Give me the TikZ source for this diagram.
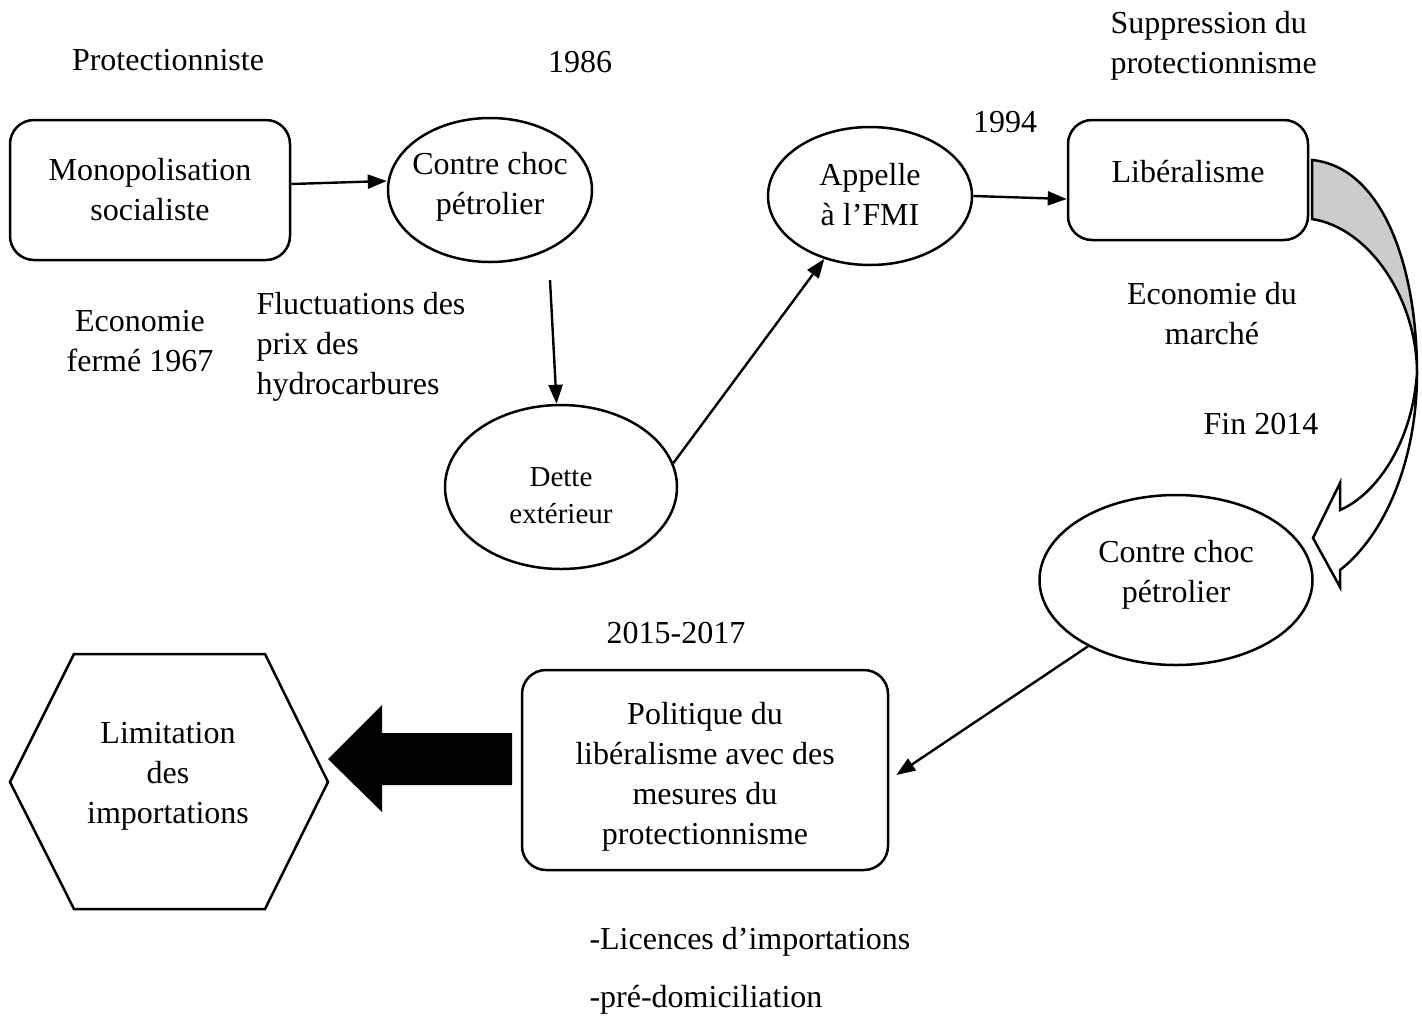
\documentclass[tikz,border=0pt]{standalone}
\usepackage{fontspec}
\setmainfont{Liberation Serif}
\usetikzlibrary{shapes,arrows.meta,positioning,calc}

\tikzset{
  every node/.style={font=\fontsize{32}{40}\selectfont},
  box/.style={draw, rounded corners=24pt, line width=2.5pt, align=center},
  oval/.style={draw, ellipse, line width=2.5pt, inner sep=0pt},
  txt/.style={align=center},
  arr/.style={line width=2.4pt, -{Triangle[length=19pt,width=14pt]}},
}

\begin{document}
\begin{tikzpicture}[x=1pt, y=-1pt]
    \useasboundingbox (0,0) rectangle (1422,1021);

    % Top row
    \node[box, minimum width=280, minimum height=140] (mono) at (150,190) {Monopolisation\\socialiste};
    \node[oval, minimum width=204, minimum height=144] (choc) at (490,190) {};
    \node[txt] at (490,187) {Contre choc\\pétrolier};
    \node[oval, minimum width=204, minimum height=138] (fmi) at (870,196) {};
    \node[txt] at (870,195) {Appelle\\à l’FMI};
    \node[box, minimum width=240, minimum height=120] (lib) at (1188,180) {};
    \node[txt] at (1188,172) {Libéralisme};

    % Middle
    \node[oval, minimum width=232, minimum height=164] (dette) at (561,487) {};
    \node[txt, font=\fontsize{29}{37}\selectfont] at (561,496) {Dette\\extérieur};
    \node[oval, minimum width=273, minimum height=170] (choc2) at (1176,580) {};
    \node[txt] at (1176,575) {Contre choc\\pétrolier};

    % Bottom row
    \node[box, minimum width=366, minimum height=200] (pol) at (705,770) {};
    \node[txt] at (705,777) {Politique du\\libéralisme avec des\\mesures du\\protectionnisme};
    \draw[line width=2.5pt] (10,782) -- (74,654) -- (265,654) -- (328,782) -- (265,909) -- (74,909) -- cycle;
    \node[txt] (lim) at (168,776) {Limitation\\des\\importations};

    % Labels
    \node[txt] at (168,60) {Protectionniste};
    \node[txt] at (580,62) {1986};
    \node[align=left, anchor=west] at (1107,46) {Suppression du\\protectionnisme};
    \node[txt] at (1005,122) {1994};
    \node[txt] at (140,341) {Economie\\fermé 1967};
    \node[align=left, anchor=west] at (253,347) {Fluctuations des\\prix des\\hydrocarbures};
    \node[txt] at (1212,314) {Economie du\\marché};
    \node[txt] at (1261,424) {Fin 2014};
    \node[txt] at (676,633) {2015-2017};
    \node[anchor=west] at (586,942) {-Licences d’importations};
    \node[anchor=west] at (586,1000) {-pré-domiciliation};

    % Connectors
    \coordinate (c1) at (550,280);
    \draw[arr] ([yshift=6pt]mono.east) -- ([yshift=9pt]choc.west);
    \draw[arr] (c1) -- (dette);
    \draw[arr] (dette.12) -- (fmi.234);
    \draw[arr] (fmi.east) -- ([yshift=-19pt]lib.west);
    \draw[arr] (choc2.217) -- ([xshift=7pt,yshift=-5pt]pol.east);

    % Curved arrow
    \fill[gray!40] (1312,160) .. controls (1382,167) and (1417,265) .. (1417,373)
        .. controls (1417,300) and (1370,228) .. (1312,219) -- cycle;
    \draw[line width=2.5pt, line join=miter] (1312,160) .. controls (1382,167) and (1417,265) .. (1417,373)
        .. controls (1417,460) and (1385,535) .. (1340,570) -- (1340,587) -- (1313,538) -- (1340,483) -- (1340,510)
        .. controls (1375,495) and (1412,445) .. (1417,373)
        .. controls (1417,300) and (1370,228) .. (1312,219) -- cycle;

    % Big arrow
    \fill (512,733) -- (382,733) -- (382,705) -- (328,759) -- (382,812) -- (382,785) -- (512,785) -- cycle;
\end{tikzpicture}
\end{document}
